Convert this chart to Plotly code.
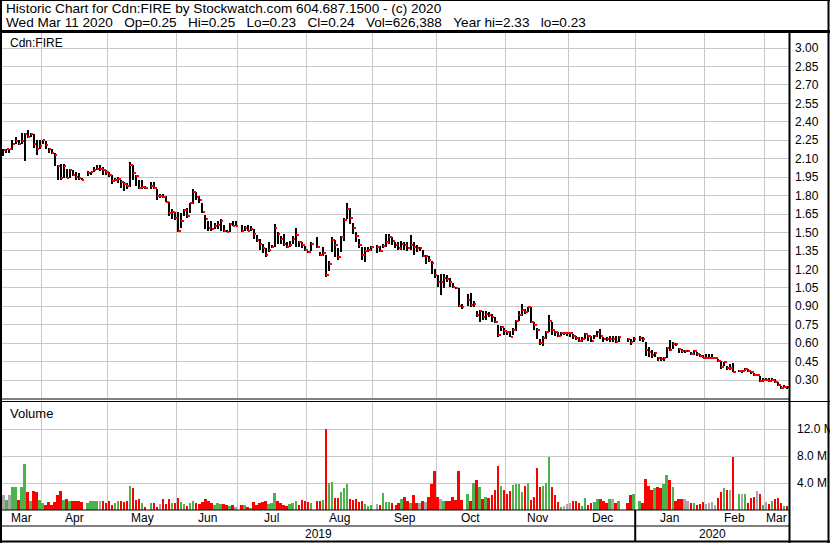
import pandas as pd
import plotly.graph_objects as go

# ---------------- data ----------------
symbol = "Cdn:FIRE"
title_line1 = "Historic Chart for Cdn:FIRE by Stockwatch.com 604.687.1500 - (c) 2020"
title_line2 = "Wed Mar 11 2020   Op=0.25   Hi=0.25   Lo=0.23   Cl=0.24   Vol=626,388   Year hi=2.33   lo=0.23"
start_date = "2019-03-13"
end_date = "2020-03-11"

price_ticks = [0.30, 0.45, 0.60, 0.75, 0.90, 1.05, 1.20, 1.35, 1.50, 1.65,
               1.80, 1.95, 2.10, 2.25, 2.40, 2.55, 2.70, 2.85, 3.00]
volume_ticks = [4, 8, 12]
volume_tick_labels = ["4.0 M", "8.0 M", "12.0 M"]

highs = [
    2.18, 2.18, 2.18, 2.25, 2.28, 2.25, 2.31, 2.31, 2.33, 2.31,
    2.30, 2.25, 2.25, 2.25, 2.24, 2.19, 2.18, 2.15, 2.05, 2.06,
    2.06, 2.02, 2.02, 2.01, 1.99, 1.98, 1.94, None, 2.00, 1.99,
    2.03, 2.05, 2.05, 2.03, 2.01, 1.99, 1.965, 1.94, 1.95, 1.93,
    1.91, 1.90, 2.07, 2.05, 1.97, 1.93, 1.93, 1.88, None, 1.91,
    1.91, 1.85, 1.81, 1.81, 1.80, 1.75, 1.69, 1.67, 1.67, 1.66,
    1.69, 1.70, 1.74, 1.85, 1.83, 1.80, 1.74, 1.64, 1.59, 1.59,
    1.58, 1.59, 1.61, 1.56, 1.52, 1.58, 1.59, 1.59, None, 1.56,
    1.55, 1.56, 1.55, 1.53, 1.48, 1.45, 1.41, 1.37, 1.42, 1.40,
    1.57, 1.50, 1.47, 1.49, 1.42, 1.43, 1.47, 1.54, 1.43, 1.42,
    1.39, 1.35, 1.42, None, 1.46, 1.34, 1.38, 1.32, 1.27, 1.46,
    1.44, 1.37, 1.47, 1.62, 1.74, 1.70, 1.58, 1.50, 1.45, 1.38,
    1.38, 1.38, 1.39, None, 1.40, 1.39, 1.41, 1.49, 1.49, 1.46,
    1.42, 1.42, 1.43, 1.42, 1.42, 1.48, 1.42, 1.40, 1.38, 1.36,
    1.32, 1.31, 1.27, 1.20, 1.15, 1.16, 1.16, 1.15, 1.13, 1.09,
    1.06, 1.05, 0.92, None, 1.00, 1.01, 0.94, 0.86, 0.87, 0.86,
    0.86, 0.85, 0.84, 0.81, 0.75, 0.74, 0.72, 0.70, 0.70, 0.72,
    0.79, 0.86, 0.92, 0.88, 0.89, 0.89, 0.77, 0.72, 0.63, 0.66,
    0.70, 0.83, 0.77, 0.70, 0.69, 0.69, 0.69, 0.69, 0.69, 0.675,
    0.66, 0.647, 0.647, 0.682, 0.666, 0.66, 0.666, 0.70, 0.715, 0.647,
    0.647, 0.66, 0.66, 0.655, 0.655, None, None, 0.64, 0.633, 0.647,
    None, 0.66, 0.647, 0.606, 0.566, 0.547, 0.525, 0.484, 0.484, 0.484,
    0.566, 0.628, 0.606, 0.601, 0.563, 0.552, 0.547, 0.547, 0.53, 0.547,
    0.525, 0.511, 0.503, 0.509, 0.511, 0.511, 0.49, 0.47, 0.457, 0.449,
    0.416, 0.43, 0.438, None, 0.384, 0.38, 0.40, 0.39, 0.376, 0.357,
    0.35, 0.335, 0.32, 0.32, 0.314, 0.32, 0.308, 0.281, 0.25, 0.26,
    0.25,
]

lows = [
    2.12, 2.15, 2.15, 2.17, 2.22, 2.21, 2.22, 2.08, 2.27, 2.28,
    2.19, 2.13, 2.18, 2.22, 2.18, 2.15, 2.14, 2.04, 1.93, 1.93,
    1.94, 1.94, 1.94, 1.96, 1.93, 1.93, 1.93, None, 1.96, 1.97,
    1.99, 2.01, 2.00, 1.97, 1.97, 1.95, 1.89, 1.92, 1.90, 1.86,
    1.84, 1.85, 1.87, 1.93, 1.88, 1.85, 1.85, 1.85, None, 1.85,
    1.85, 1.76, 1.78, 1.78, 1.75, 1.63, 1.61, 1.60, 1.50, 1.54,
    1.63, 1.62, 1.66, 1.73, 1.76, 1.74, 1.66, 1.53, 1.51, 1.51,
    1.53, 1.53, 1.51, 1.50, 1.50, 1.50, 1.55, 1.55, None, 1.50,
    1.51, 1.51, 1.51, 1.45, 1.42, 1.36, 1.33, 1.30, 1.34, 1.37,
    1.38, 1.41, 1.41, 1.39, 1.37, 1.38, 1.41, 1.38, 1.38, 1.37,
    1.35, 1.33, 1.35, None, 1.37, 1.31, 1.31, 1.14, 1.19, 1.34,
    1.30, 1.28, 1.34, 1.43, 1.61, 1.57, 1.49, 1.42, 1.37, 1.28,
    1.26, 1.34, 1.35, None, 1.33, 1.34, 1.37, 1.38, 1.41, 1.40,
    1.37, 1.36, 1.36, 1.36, 1.35, 1.36, 1.32, 1.34, 1.35, 1.30,
    1.24, 1.26, 1.16, 1.13, 1.06, 0.99, 1.05, 1.10, 1.06, 1.05,
    1.04, 0.89, 0.88, None, 0.90, 0.89, 0.89, 0.81, 0.77, 0.79,
    0.79, 0.81, 0.77, 0.76, 0.65, 0.70, 0.67, 0.67, 0.65, 0.67,
    0.70, 0.78, 0.82, 0.84, 0.85, 0.76, 0.71, 0.63, 0.585, 0.58,
    0.63, 0.69, 0.67, 0.655, 0.65, 0.655, 0.67, 0.66, 0.65, 0.635,
    0.628, 0.606, 0.612, 0.634, 0.62, 0.606, 0.634, 0.647, 0.634, 0.612,
    0.62, 0.612, 0.612, 0.60, 0.606, None, None, 0.607, 0.585, 0.612,
    None, 0.62, 0.606, 0.498, 0.485, 0.476, 0.484, 0.457, 0.457, 0.457,
    0.476, 0.539, 0.552, 0.574, 0.52, 0.52, 0.52, 0.525, 0.503, 0.503,
    0.498, 0.484, 0.476, 0.476, 0.476, 0.476, 0.476, 0.449, 0.39, 0.411,
    0.384, 0.384, 0.362, None, 0.362, 0.365, 0.373, 0.362, 0.35, 0.335,
    0.335, 0.281, 0.286, 0.292, 0.286, 0.292, 0.276, 0.254, 0.23, 0.235,
    0.23,
]

closes = [
    2.17, 2.18, 2.18, 2.22, 2.24, 2.22, 2.24, 2.30, 2.28, 2.30,
    2.22, 2.18, 2.20, 2.25, 2.21, 2.18, 2.15, 2.13, 2.04, 1.94,
    2.04, 1.94, 2.01, 1.97, 1.95, 1.94, 1.93, None, 1.98, 1.99,
    2.01, 2.02, 2.02, 2.01, 1.99, 1.965, 1.92, 1.93, 1.935, 1.91,
    1.89, 1.88, 2.05, 1.98, 1.96, 1.86, 1.87, 1.86, None, 1.88,
    1.86, 1.80, 1.80, 1.79, 1.75, 1.66, 1.67, 1.62, 1.51, 1.59,
    1.68, 1.63, 1.74, 1.83, 1.79, 1.76, 1.67, 1.61, 1.54, 1.53,
    1.55, 1.56, 1.59, 1.51, 1.50, 1.57, 1.55, 1.55, None, 1.51,
    1.54, 1.51, 1.53, 1.49, 1.44, 1.41, 1.37, 1.32, 1.36, 1.38,
    1.54, 1.49, 1.45, 1.41, 1.38, 1.40, 1.45, 1.48, 1.42, 1.40,
    1.36, 1.34, 1.41, None, 1.38, 1.32, 1.33, 1.15, 1.24, 1.44,
    1.40, 1.30, 1.46, 1.60, 1.69, 1.62, 1.54, 1.47, 1.40, 1.32,
    1.35, 1.36, 1.38, None, 1.38, 1.35, 1.39, 1.42, 1.46, 1.43,
    1.40, 1.37, 1.41, 1.40, 1.37, 1.40, 1.38, 1.37, 1.37, 1.31,
    1.31, 1.28, 1.25, 1.15, 1.10, 1.10, 1.13, 1.12, 1.10, 1.06,
    1.05, 0.90, 0.89, None, 0.95, 0.91, 0.92, 0.83, 0.86, 0.81,
    0.84, 0.83, 0.81, 0.77, 0.67, 0.73, 0.70, 0.69, 0.65, 0.71,
    0.78, 0.83, 0.87, 0.85, 0.89, 0.77, 0.75, 0.71, 0.60, 0.64,
    0.69, 0.78, 0.71, 0.69, 0.655, 0.68, 0.68, 0.68, 0.68, 0.655,
    0.64, 0.62, 0.63, 0.675, 0.655, 0.615, 0.655, 0.69, 0.655, 0.635,
    0.63, 0.635, 0.635, 0.61, 0.65, None, None, 0.63, 0.61, 0.63,
    None, 0.645, 0.63, 0.54, 0.525, 0.50, 0.517, 0.476, 0.47, 0.476,
    0.563, 0.547, 0.596, 0.59, 0.55, 0.536, 0.536, 0.536, 0.509, 0.536,
    0.51, 0.498, 0.482, 0.482, 0.482, 0.482, 0.482, 0.455, 0.403, 0.444,
    0.40, 0.40, 0.368, None, 0.373, 0.373, 0.39, 0.373, 0.362, 0.34,
    0.34, 0.29, 0.30, 0.30, 0.29, 0.30, 0.286, 0.26, 0.235, 0.245,
    0.24,
]

volumes_m = [
    2.2, 1.5, 2.2, 3.4, 3.4, 1.5, 3.4, 6.8, 2.6, 1.4,
    2.8, 2.6, 1.5, 1.0, 0.8, 1.2, 0.7, 1.2, 2.2, 2.8,
    1.5, 1.7, 1.4, 1.3, 1.3, 1.3, 1.2, None, 1.0, 1.3,
    1.3, 1.3, 1.4, 1.3, 1.1, 1.3, 0.8, 1.1, 1.4, 1.4,
    1.2, 1.3, 3.6, 3.2, 1.5, 1.7, 1.1, 0.5, None, 1.0,
    1.0, 0.5, 0.9, 1.7, 0.9, 1.6, 1.1, 1.0, 1.8, 1.2,
    0.9, 0.6, 1.0, 1.4, 1.0, 0.9, 1.2, 1.6, 1.4, 1.0,
    0.8, 1.0, 0.9, 0.9, 0.7, 0.6, 0.8, 0.4, None, 0.8,
    0.7, 0.4, 0.3, 1.2, 0.8, 1.0, 1.2, 1.3, 0.9, 1.1,
    2.5, 1.3, 1.0, 0.8, 0.6, 0.9, 1.0, 1.4, 0.8, 1.5,
    1.3, 1.2, 1.0, None, 1.3, 1.3, 1.5, 12.0, 4.0, 4.2,
    1.8, 1.8, 2.6, 3.2, 3.8, 1.6, 1.5, 1.6, 1.2, 1.3,
    0.9, 0.6, 0.8, None, 0.9, 0.7, 2.5, 1.2, 1.2, 1.0,
    0.8, 1.0, 1.6, 1.9, 1.4, 1.0, 2.2, 1.0, 1.1, 1.3,
    1.2, 2.0, 3.8, 5.8, 2.0, 1.6, 1.4, 1.4, 1.3, 2.0,
    1.5, 5.8, 1.5, None, 2.4, 1.3, 4.0, 4.4, 3.4, 1.6,
    2.0, 1.8, 2.2, 3.0, 6.5, 3.6, 3.0, 2.4, 2.8, 3.7,
    3.8, 3.9, 2.6, 3.6, 4.0, 1.5, 2.0, 6.2, 3.4, 3.6,
    4.0, 7.8, 3.4, 2.2, 1.2, 0.4, 0.6, 0.9, 1.1, 1.4,
    1.4, 1.0, 0.6, 1.8, 0.7, 1.0, 1.2, 1.6, 1.6, 1.3,
    1.0, 1.6, 1.6, 1.0, 1.4, None, None, 1.0, 2.2, 2.4,
    None, 1.3, 1.0, 4.6, 3.6, 3.0, 3.3, 3.4, 3.3, 3.9,
    5.2, 4.5, 3.4, 1.4, 1.6, 1.6, 1.6, 1.3, 1.0, 1.0,
    0.7, 0.9, 1.2, 0.9, 1.1, 1.2, 0.8, 1.8, 2.6, 3.3,
    3.0, 3.0, 7.8, None, 2.4, 2.4, 2.3, 1.0, 1.8, 2.0,
    2.8, 2.4, 0.8, 1.2, 0.9, 1.3, 1.6, 1.8, 1.0, 0.6,
    0.626,
]

# ---------------- geometry / style ----------------
W, H = 830, 543
ML, MR, MT, MB = 2, 41, 32, 33
PW = W - ML - MR
PH = H - MT - MB
FONT = "Liberation Sans, Arial, sans-serif"
GRID = "#c8c8c8"
UP, DOWN, FLAT = "#4cb34c", "#ff0000", "#a8a8a8"
NB = "\u00a0"


def px_x(px):
    return (px - ML) / PW


def px_y(py):
    return (H - MB - py) / PH


price_top_px, price_bot_px = 32, 398
vol_top_px, vol_bot_px = 402, 510
price_range = [0.30 - (price_bot_px - 380) / 123.0, 3.00 + (48 - price_top_px) / 123.0]
vol_range = [0, 16]

days = pd.bdate_range(start_date, end_date)
n = len(days)
xs = list(range(n))


def groups_by(key):
    out = []
    for i, d in enumerate(days):
        k = key(d)
        if not out or out[-1][0] != k:
            out.append([k, i, i, d])
        else:
            out[-1][2] = i
    return out


month_groups = groups_by(lambda d: (d.year, d.month))
year_groups = groups_by(lambda d: d.year)
month_bounds = [g[1] - 0.5 for g in month_groups[1:]]

vol_colors = []
prev = None
for c in closes:
    if c is None:
        vol_colors.append(FLAT)
        continue
    if prev is None or abs(c - prev) < 1e-9:
        vol_colors.append(FLAT)
    elif c > prev:
        vol_colors.append(UP)
    else:
        vol_colors.append(DOWN)
    prev = c

span = [None if h is None else h - l for h, l in zip(highs, lows)]
px_per_price = (price_bot_px - price_top_px) / (price_range[1] - price_range[0])
tick_h = 2.0 / px_per_price
close_base = [None if c is None else c - tick_h / 2 for c in closes]
close_len = [None if c is None else tick_h for c in closes]

fig = go.Figure()
fig.add_trace(go.Bar(x=xs, y=span, base=lows, width=0.38, offset=-0.19,
                     marker=dict(color="#000000", line=dict(width=0)),
                     xaxis="x", yaxis="y", hoverinfo="skip"))
fig.add_trace(go.Bar(x=xs, y=close_len, base=close_base, width=0.66, offset=0.17,
                     marker=dict(color="#ff0000", line=dict(width=0)),
                     xaxis="x", yaxis="y", hoverinfo="skip"))
fig.add_trace(go.Bar(x=xs, y=volumes_m, width=0.66,
                     marker=dict(color=vol_colors, line=dict(width=0)),
                     xaxis="x2", yaxis="y2", hoverinfo="skip"))

xcommon = dict(range=[-0.5, n - 0.5], tickvals=month_bounds, showticklabels=False,
               ticks="", showgrid=True, gridcolor=GRID, gridwidth=1,
               zeroline=False, showline=False, fixedrange=True)
fig.update_layout(
    width=W, height=H,
    margin=dict(l=ML, r=MR, t=MT, b=MB, pad=0),
    paper_bgcolor="white", plot_bgcolor="white",
    barmode="overlay", bargap=0, showlegend=False,
    font=dict(family=FONT, size=12, color="black"),
    xaxis=dict(domain=[0, 1], anchor="y", **xcommon),
    xaxis2=dict(domain=[0, 1], anchor="y2", matches="x", **xcommon),
    yaxis=dict(domain=[px_y(price_bot_px), px_y(price_top_px)], anchor="x", side="right",
               range=price_range, tickvals=price_ticks,
               ticktext=["%.2f" % v for v in price_ticks],
               showgrid=True, gridcolor=GRID, gridwidth=1, zeroline=False,
               showline=False, ticks="", ticklabelstandoff=5, automargin=False,
               tickfont=dict(family=FONT, size=12, color="black")),
    yaxis2=dict(domain=[px_y(vol_bot_px), px_y(vol_top_px)], anchor="x2", side="right",
                range=vol_range, tickvals=volume_ticks, ticktext=volume_tick_labels,
                showgrid=True, gridcolor=GRID, gridwidth=1, zeroline=False,
                showline=False, ticks="", ticklabelstandoff=7, automargin=False,
                tickfont=dict(family=FONT, size=12, color="black")),
)

ann = []
ann.append(dict(text=title_line1.replace(" ", NB), x=px_x(4), y=px_y(8),
                xref="paper", yref="paper", xanchor="left", yanchor="middle",
                showarrow=False, font=dict(family=FONT, size=13.6)))
ann.append(dict(text=title_line2.replace(" ", NB), x=px_x(4), y=px_y(22),
                xref="paper", yref="paper", xanchor="left", yanchor="middle",
                showarrow=False, font=dict(family=FONT, size=13.6)))
ann.append(dict(text=symbol, x=px_x(8), y=px_y(43), xref="paper", yref="paper",
                xanchor="left", yanchor="middle", showarrow=False,
                font=dict(family=FONT, size=12)))
ann.append(dict(text="Volume", x=px_x(8), y=px_y(413), xref="paper", yref="paper",
                xanchor="left", yanchor="middle", showarrow=False,
                font=dict(family=FONT, size=13)))
for g in month_groups:
    ann.append(dict(text=g[3].strftime("%b"), x=(g[1] + g[2]) / 2.0, y=px_y(518),
                    xref="x2", yref="paper", xanchor="center", yanchor="middle",
                    showarrow=False, font=dict(family=FONT, size=12)))
for g in year_groups:
    ann.append(dict(text=str(g[0]), x=(g[1] + g[2]) / 2.0, y=px_y(534),
                    xref="x2", yref="paper", xanchor="center", yanchor="middle",
                    showarrow=False, font=dict(family=FONT, size=12)))
fig.update_layout(annotations=ann)

shapes = []


def hline(py, x0, x1, w=1):
    shapes.append(dict(type="line", xref="paper", yref="paper", x0=px_x(x0), x1=px_x(x1),
                       y0=px_y(py), y1=px_y(py), line=dict(color="black", width=w)))


def vline(px, y0, y1, w=1, xref="paper", xv=None):
    xx = px_x(px) if xv is None else xv
    shapes.append(dict(type="line", xref=xref, yref="paper", x0=xx, x1=xx,
                       y0=px_y(y0), y1=px_y(y1), line=dict(color="black", width=w)))


hline(0.5, 0, W, 1)
hline(541.5, 0, W, 2)
vline(1, 0, H, 2)
vline(828.5, 0, H, 2)
hline(31.5, 0, W, 3)
vline(789.5, 31, H, 2)
hline(399, 0, 789, 1)
hline(401.5, 0, W, 1)
hline(510, 0, 789, 1)
hline(526, 0, 789, 1)
vline(0, 510, 541, 2, xref="x2", xv=year_groups[1][1] - 0.5)
fig.update_layout(shapes=shapes)

fig.write_html("out.html", config={"displayModeBar": False},
               post_script="document.body.style.margin='0';document.body.style.overflow='hidden';")
